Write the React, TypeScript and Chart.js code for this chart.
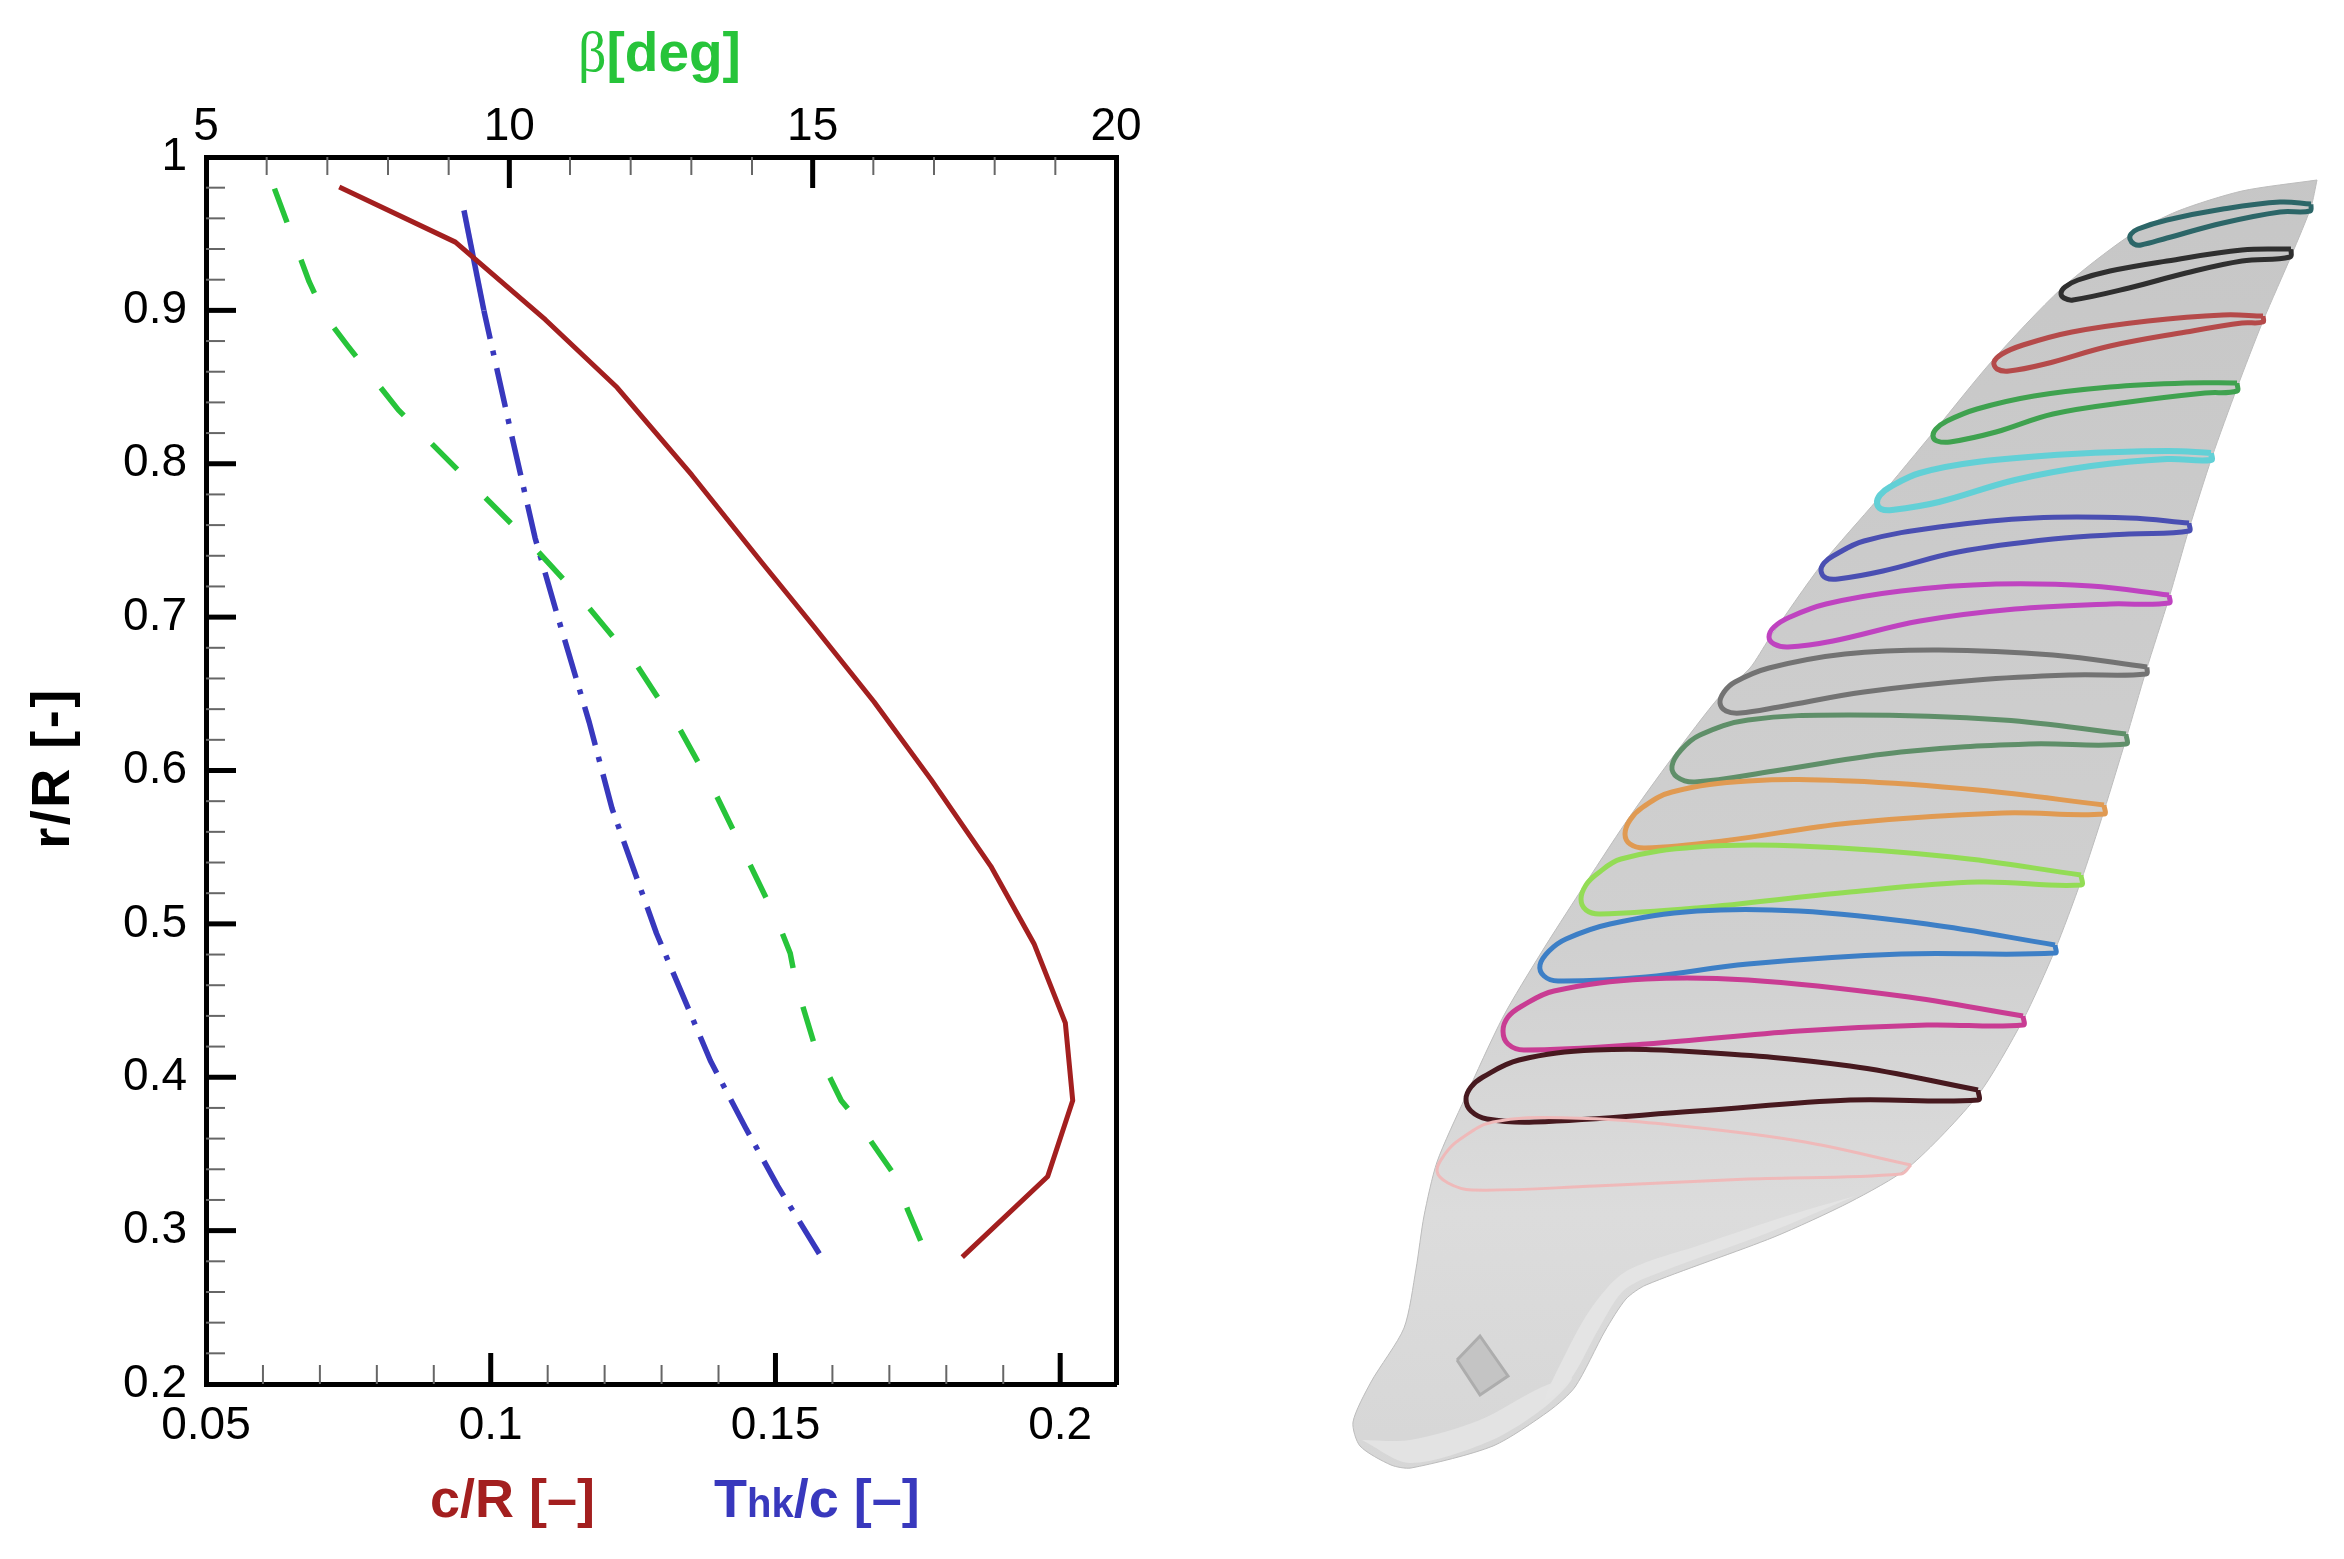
import React, { useEffect, useRef } from "react";
import { Chart, registerables } from "chart.js";

Chart.register(...registerables);

// ---------- left chart data ----------
const chordR = [0.1828, 0.1978, 0.2022, 0.2009, 0.1954, 0.1878, 0.1773, 0.1673, 0.1566, 0.1476, 0.1353, 0.1222, 0.1096, 0.0938, 0.0734];
const chordRadius = [0.2827, 0.3353, 0.3849, 0.4355, 0.4871, 0.5377, 0.5942, 0.6448, 0.6945, 0.7356, 0.7927, 0.8497, 0.8939, 0.9445, 0.9805];

const thickness = [0.1577, 0.1504, 0.1447, 0.1386, 0.1291, 0.1213, 0.1173, 0.1117, 0.1078, 0.1039, 0.0988];
const thicknessRadius = [0.2849, 0.329, 0.3674, 0.4106, 0.4939, 0.5752, 0.6314, 0.7012, 0.7515, 0.8147, 0.8999];
const thicknessTip = [0.0988, 0.0953];
const thicknessTipRadius = [0.8999, 0.9652];

const beta = [16.78, 16.57, 16.36, 15.63, 15.47, 15.05, 14.73, 14.63, 14.42, 13.4, 12.81, 12.48, 12.11, 11.22, 10.27, 9.22, 8.17, 7.33, 6.96, 6.7, 6.12];
const betaRadius = [0.2934, 0.3131, 0.3355, 0.3771, 0.3849, 0.4185, 0.4602, 0.4809, 0.5017, 0.5848, 0.627, 0.6457, 0.6681, 0.7105, 0.7515, 0.7932, 0.8351, 0.8772, 0.8966, 0.9187, 0.9803];

const bottomMajor = [0.05, 0.1, 0.15, 0.2];
const bottomMinor = [0.06, 0.07, 0.08, 0.09, 0.11, 0.12, 0.13, 0.14, 0.16, 0.17, 0.18, 0.19];
const topMajor = [5, 10, 15, 20];
const topMinor = [6, 7, 8, 9, 11, 12, 13, 14, 16, 17, 18, 19];
const leftMajor = [0.2, 0.3, 0.4, 0.5, 0.6, 0.7, 0.8, 0.9, 1];
const leftMinor = [0.22, 0.24, 0.26, 0.28, 0.32, 0.34, 0.36, 0.38, 0.42, 0.44, 0.46, 0.48, 0.52, 0.54, 0.56, 0.58, 0.62, 0.64, 0.66, 0.68, 0.72, 0.74, 0.76, 0.78, 0.82, 0.84, 0.86, 0.88, 0.92, 0.94, 0.96, 0.98];

const RED = "#a31f1f";
const GREEN = "#27c43a";
const BLUE = "#3838bd";

// ---------- right picture data: blade and sections, in picture units ----------
type P = [number, number];
const bladeOutline: P[] = [
  [2317, 180], [2311, 207], [2292, 254], [2263, 321], [2237, 388], [2212, 457], [2189, 529], [2169, 598], [2146, 671], [2126, 739],
  [2104, 811], [2081, 881], [2055, 950], [2023, 1020], [1978, 1095], [1909, 1167], [1850, 1202], [1774, 1237], [1646, 1285], [1626, 1299],
  [1605, 1331], [1575, 1387], [1549, 1411], [1493, 1446], [1411, 1468], [1391, 1465], [1360, 1446], [1353, 1422], [1371, 1382], [1404, 1328],
  [1416, 1269], [1424, 1216], [1437, 1162], [1465, 1098], [1503, 1017], [1541, 953], [1580, 892], [1626, 822], [1672, 758], [1720, 696],
  [1750, 668], [1769, 639], [1822, 564], [1877, 500], [1936, 429], [1992, 361], [2061, 289], [2129, 236], [2178, 211], [2242, 191], [2317, 180],
];
const rootHighlight: P[] = [
  [1855, 1196], [1770, 1232], [1648, 1277], [1622, 1292], [1598, 1330], [1570, 1380], [1545, 1400], [1560, 1365], [1590, 1310], [1625, 1272], [1700, 1245], [1790, 1215], [1855, 1196],
];
const rootRim: P[] = [
  [1362, 1440], [1410, 1463], [1490, 1441], [1545, 1407], [1572, 1378], [1540, 1388], [1480, 1420], [1410, 1440], [1362, 1440],
];
const rootWindow: P[] = [[1457, 1360], [1480, 1336], [1508, 1376], [1480, 1395], [1457, 1360]];

const sectionTeal: P[] = [[2311, 204], [2280, 202], [2223, 209], [2167, 220], [2138, 229], [2131, 234], [2130, 239], [2134, 244], [2141, 245], [2167, 238], [2223, 223], [2280, 212], [2310, 211], [2311, 204]];
const sectionBlack: P[] = [[2291, 249], [2242, 250], [2167, 261], [2110, 271], [2078, 280], [2065, 287], [2061, 293], [2064, 298], [2073, 300], [2129, 288], [2186, 273], [2242, 261], [2290, 257], [2291, 249]];
const sectionRed: P[] = [[2263, 316], [2223, 315], [2148, 321], [2072, 332], [2023, 345], [2002, 354], [1994, 362], [1997, 369], [2009, 371], [2045, 364], [2110, 346], [2186, 332], [2242, 323], [2263, 322], [2263, 316]];
const sectionGreen: P[] = [[2237, 383], [2186, 383], [2110, 387], [2034, 396], [1977, 409], [1947, 421], [1936, 429], [1933, 436], [1937, 441], [1950, 442], [1996, 432], [2053, 414], [2129, 402], [2205, 393], [2237, 391], [2237, 383]];
const sectionCyan: P[] = [[2211, 453], [2167, 451], [2072, 454], [1977, 462], [1920, 473], [1890, 487], [1880, 495], [1877, 503], [1881, 509], [1892, 510], [1939, 502], [2015, 480], [2091, 466], [2167, 459], [2211, 460], [2211, 453]];
const sectionBlue: P[] = [[2189, 523], [2129, 518], [2034, 518], [1939, 527], [1864, 541], [1833, 556], [1824, 563], [1821, 571], [1826, 578], [1838, 579], [1883, 571], [1958, 552], [2053, 539], [2129, 534], [2189, 531], [2189, 523]];
const sectionMagenta: P[] = [[2169, 595], [2091, 586], [1996, 584], [1901, 591], [1826, 604], [1790, 617], [1774, 627], [1769, 637], [1774, 644], [1788, 647], [1833, 641], [1920, 621], [2015, 609], [2110, 604], [2169, 603], [2169, 595]];
const sectionGray: P[] = [[2147, 667], [2053, 655], [1939, 650], [1845, 654], [1769, 668], [1735, 682], [1724, 692], [1720, 703], [1726, 711], [1740, 713], [1779, 707], [1864, 692], [1977, 680], [2072, 675], [2146, 674], [2147, 667]];
const sectionDarkGreen: P[] = [[2126, 734], [2003, 720], [1850, 715], [1748, 720], [1700, 735], [1681, 750], [1672, 766], [1677, 777], [1695, 782], [1774, 771], [1901, 752], [2029, 744], [2126, 744], [2126, 734]];
const sectionOrange: P[] = [[2104, 805], [1978, 790], [1850, 781], [1748, 781], [1672, 792], [1643, 807], [1630, 820], [1625, 834], [1630, 844], [1645, 848], [1723, 841], [1850, 823], [2003, 813], [2104, 814], [2104, 805]];
const sectionLime: P[] = [[2081, 875], [1952, 857], [1799, 846], [1697, 847], [1621, 859], [1597, 874], [1586, 885], [1581, 899], [1586, 910], [1600, 914], [1697, 908], [1850, 892], [1978, 882], [2081, 885], [2081, 875]];
const sectionSky: P[] = [[2055, 945], [1927, 924], [1799, 911], [1697, 911], [1610, 924], [1566, 939], [1549, 951], [1540, 965], [1544, 976], [1558, 981], [1646, 977], [1748, 964], [1901, 954], [2055, 953], [2055, 945]];
const sectionPink: P[] = [[2023, 1016], [1901, 996], [1748, 980], [1646, 979], [1554, 991], [1522, 1006], [1508, 1017], [1503, 1031], [1508, 1044], [1524, 1050], [1646, 1044], [1799, 1031], [1927, 1025], [2023, 1025], [2023, 1016]];
const sectionMaroon: P[] = [[1978, 1090], [1850, 1066], [1697, 1052], [1595, 1050], [1519, 1060], [1483, 1077], [1471, 1087], [1466, 1099], [1471, 1111], [1487, 1119], [1534, 1122], [1697, 1111], [1850, 1100], [1978, 1100], [1978, 1090]];
const sectionBlush: P[] = [[1911, 1165], [1799, 1141], [1672, 1125], [1570, 1118], [1493, 1122], [1459, 1140], [1445, 1154], [1437, 1171], [1448, 1183], [1472, 1190], [1595, 1186], [1748, 1179], [1901, 1174], [1911, 1165]];

const sections: [P[], string, number][] = [
  [sectionBlush, "#efb9b9", 3],
  [sectionMaroon, "#47191f", 5],
  [sectionPink, "#c93c93", 5],
  [sectionSky, "#3d7fc6", 5],
  [sectionLime, "#93dc55", 5],
  [sectionOrange, "#e09a52", 5],
  [sectionDarkGreen, "#5f8f69", 5],
  [sectionGray, "#737373", 5],
  [sectionMagenta, "#bf43c0", 5],
  [sectionBlue, "#4a4fb2", 5],
  [sectionCyan, "#62d0d6", 6],
  [sectionGreen, "#3fa24f", 5],
  [sectionRed, "#b54a4a", 5],
  [sectionBlack, "#2f2f2f", 5],
  [sectionTeal, "#2c6668", 5],
];

const pts = (xs: number[], ys: number[]) => xs.map((x, i) => ({ x, y: ys[i] }));
const tuples = (a: P[]) => a.map(([x, y]) => ({ x, y }));

const PLOT = { left: 206, right: 1116, top: 157, bottom: 1384 };

const tickPlugin = {
  id: "inwardTicks",
  afterDraw(chart: any) {
    const { ctx, scales, chartArea: a } = chart;
    const draw = (vals: number[], scale: any, side: string, len: number, w: number, col: string) => {
      ctx.save();
      ctx.strokeStyle = col;
      ctx.lineWidth = w;
      vals.forEach((v) => {
        const p = scale.getPixelForValue(v);
        ctx.beginPath();
        if (side === "left") { ctx.moveTo(a.left, p); ctx.lineTo(a.left + len, p); }
        if (side === "bottom") { ctx.moveTo(p, a.bottom); ctx.lineTo(p, a.bottom - len); }
        if (side === "top") { ctx.moveTo(p, a.top); ctx.lineTo(p, a.top + len); }
        ctx.stroke();
      });
      ctx.restore();
    };
    draw(leftMinor, scales.y, "left", 19, 2, "#666666");
    draw(bottomMinor, scales.x, "bottom", 19, 2, "#666666");
    draw(topMinor, scales.x2, "top", 18, 2, "#666666");
    draw(leftMajor.slice(1, -1), scales.y, "left", 30, 5, "#000000");
    draw(bottomMajor.slice(1), scales.x, "bottom", 31, 5, "#000000");
    draw(topMajor.slice(1, -1), scales.x2, "top", 31, 5, "#000000");

    // axis titles
    ctx.save();
    ctx.textBaseline = "alphabetic";
    ctx.textAlign = "left";
    const run = (parts: [string, string][], x: number, y: number, color: string) => {
      ctx.fillStyle = color;
      let cx = x;
      parts.forEach(([t, f]) => {
        ctx.font = f;
        ctx.fillText(t, cx, y);
        cx += ctx.measureText(t).width;
      });
    };
    run([["β", "56px 'Liberation Serif'"], ["[deg]", "bold 55px 'Liberation Sans'"]], 578, 71, GREEN);
    run([["c/R [–]", "bold 54px 'Liberation Sans'"]], 430, 1517, RED);
    run([["T", "bold 54px 'Liberation Sans'"], ["hk", "bold 40px 'Liberation Sans'"], ["/c [–]", "bold 54px 'Liberation Sans'"]], 714, 1517, BLUE);
    ctx.translate(69, 768);
    ctx.rotate(-Math.PI / 2);
    ctx.textAlign = "center";
    ctx.fillStyle = "#000000";
    ctx.font = "bold 54px 'Liberation Sans'";
    (ctx as any).letterSpacing = "2.5px";
    ctx.fillText("r/R [-]", 0, 0);
    ctx.restore();
  },
};

const axisFont = { family: "'Liberation Sans'", size: 46 };
const border = { display: true, color: "#000000", width: 5 };
const noGrid = { display: false, drawTicks: false };

export default function App() {
  const plotRef = useRef<HTMLCanvasElement>(null);
  const bladeRef = useRef<HTMLCanvasElement>(null);

  useEffect(() => {
    const lineBase = { showLine: true, pointRadius: 0, pointHoverRadius: 0, tension: 0, fill: false, borderCapStyle: "butt", borderJoinStyle: "round" };
    const plot = new Chart(plotRef.current!, {
      type: "scatter",
      data: {
        datasets: [
          { ...lineBase, label: "β", data: pts(beta, betaRadius), xAxisID: "x2", yAxisID: "y", borderColor: GREEN, borderWidth: 5.5, borderDash: [36, 40] },
          { ...lineBase, label: "c/R", data: pts(chordR, chordRadius), xAxisID: "x", yAxisID: "y", borderColor: RED, borderWidth: 5 },
          { ...lineBase, label: "Thk/c", data: pts(thickness, thicknessRadius), xAxisID: "x", yAxisID: "y", borderColor: BLUE, borderWidth: 5.5, borderDash: [40, 13, 5, 12], borderDashOffset: 2 },
          { ...lineBase, label: "Thk/c tip", data: pts(thicknessTip, thicknessTipRadius), xAxisID: "x", yAxisID: "y", borderColor: BLUE, borderWidth: 5.5 },
        ],
      } as any,
      options: {
        animation: false,
        responsive: false,
        devicePixelRatio: 1,
        layout: { padding: 0 },
        plugins: { legend: { display: false }, tooltip: { enabled: false }, title: { display: false } },
        scales: {
          x: {
            type: "linear", position: "bottom", min: 0.05, max: 0.2098,
            grid: noGrid, border,
            afterBuildTicks: (s: any) => { s.ticks = bottomMajor.map((value) => ({ value })); },
            afterFit: (s: any) => { s.height = 1559 - PLOT.bottom; },
            ticks: { font: axisFont, color: "#000000", padding: 15, autoSkip: false, maxRotation: 0, callback: (v: any) => String(+Number(v).toFixed(2)) },
          },
          x2: {
            type: "linear", axis: "x", position: "top", min: 5, max: 20,
            grid: noGrid, border,
            afterBuildTicks: (s: any) => { s.ticks = topMajor.map((value) => ({ value })); },
            afterFit: (s: any) => { s.height = PLOT.top; },
            ticks: { font: axisFont, color: "#000000", padding: 2, autoSkip: false, maxRotation: 0, callback: (v: any) => String(v) },
          },
          y: {
            type: "linear", position: "left", min: 0.2, max: 1,
            grid: noGrid, border,
            afterBuildTicks: (s: any) => { s.ticks = leftMajor.map((value) => ({ value })); },
            afterFit: (s: any) => { s.width = PLOT.left; },
            ticks: { font: axisFont, color: "#000000", padding: 19, autoSkip: false, callback: (v: any) => String(+Number(v).toFixed(1)) },
          },
          y2: {
            type: "linear", axis: "y", position: "right", min: 0.2, max: 1,
            grid: noGrid, border,
            afterFit: (s: any) => { s.width = 2344 - PLOT.right; },
            ticks: { display: false },
          },
        },
      } as any,
      plugins: [tickPlugin],
    });

    const closed = { showLine: true, pointRadius: 0, pointHoverRadius: 0 };
    const bladeFill = (c: any) => {
      const g = c.chart.ctx.createLinearGradient(0, 150, 0, 1480);
      g.addColorStop(0, "#c6c6c6");
      g.addColorStop(0.6, "#d0d0d0");
      g.addColorStop(0.8, "#dcdcdc");
      g.addColorStop(1, "#d6d6d6");
      return g;
    };
    const blade = new Chart(bladeRef.current!, {
      type: "scatter",
      data: {
        datasets: [
          ...sections.map(([s, color, w]) => ({ ...closed, label: color, data: tuples(s), borderColor: color, borderWidth: w, tension: 0.38, fill: false })),
          { ...closed, label: "window", data: tuples(rootWindow), borderColor: "#adadad", borderWidth: 3, backgroundColor: "#c4c4c4", fill: "shape", tension: 0 },
          { ...closed, label: "highlight", data: tuples(rootHighlight), borderWidth: 0, borderColor: "rgba(0,0,0,0)", backgroundColor: "#e4e4e4", fill: "shape", tension: 0.3 },
          { ...closed, label: "rim", data: tuples(rootRim), borderWidth: 0, borderColor: "rgba(0,0,0,0)", backgroundColor: "#e3e3e3", fill: "shape", tension: 0.3 },
          { ...closed, label: "blade", data: tuples(bladeOutline), borderColor: "#bcbcbc", borderWidth: 1, backgroundColor: bladeFill, fill: "shape", tension: 0.25 },
        ],
      } as any,
      options: {
        animation: false,
        responsive: false,
        devicePixelRatio: 1,
        layout: { padding: 0 },
        plugins: { legend: { display: false }, tooltip: { enabled: false } },
        scales: {
          x: { type: "linear", min: 1172, max: 2344, display: false },
          y: { type: "linear", min: 0, max: 1559, reverse: true, display: false },
        },
      } as any,
    });

    return () => {
      plot.destroy();
      blade.destroy();
    };
  }, []);

  return (
    <div style={{ position: "absolute", left: 0, top: 0, width: 2344, height: 1559, overflow: "hidden", background: "#ffffff" }}>
      <canvas ref={plotRef} width={2344} height={1559} style={{ position: "absolute", left: 0, top: 0, width: 2344, height: 1559 }} />
      <canvas ref={bladeRef} width={1172} height={1559} style={{ position: "absolute", left: 1172, top: 0, width: 1172, height: 1559 }} />
    </div>
  );
}
